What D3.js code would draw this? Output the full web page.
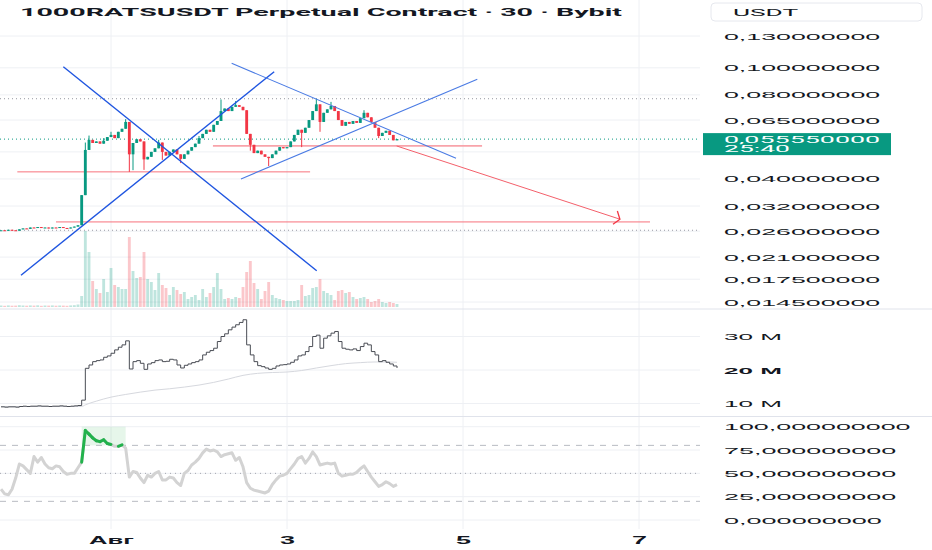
<!DOCTYPE html>
<html>
<head>
<meta charset="utf-8">
<script src="https://cdn.jsdelivr.net/npm/d3@7"></script>
<style>
  html, body { margin: 0; padding: 0; background: #fff; }
  svg { display: block; font-family: Roboto, "Noto Sans", sans-serif; }
</style>
</head>
<body>
<div id="chart"></div>
<script>
// ---- chart data (hourly bars, hour 0 = 1 Aug 00:00) ----
const title = "1000RATSUSDT Perpetual Contract · 30 · Bybit";
const firstHour = -30;

const closes = [
  0.0262,0.0261,0.0263,0.0262,0.0261,0.0264,0.0266,0.0265,0.0268,0.0267,0.0269,
  0.0267,0.0268,0.0266,0.0268,0.0267,0.0269,0.0267,0.0266,0.0268,0.0270,0.0273,
  0.0350,0.0508,0.0552,0.0538,0.0545,0.0535,0.0548,0.0565,
  0.0575,0.0560,0.0590,0.0605,0.0640,0.0490,0.0538,0.0555,0.0545,0.0470,
  0.0480,0.0500,0.0515,0.0540,0.0500,0.0485,0.0500,0.0510,0.0490,0.0472,
  0.0490,0.0505,0.0520,0.0535,0.0560,0.0580,0.0600,0.0590,0.0625,0.0645,
  0.0700,0.0715,0.0700,0.0725,0.0735,0.0725,0.0705,0.0580,0.0530,0.0495,
  0.0505,0.0490,0.0480,0.0475,0.0490,0.0505,0.0520,0.0515,0.0520,0.0545,
  0.0575,0.0600,0.0585,0.0610,0.0650,0.0700,0.0740,0.0640,0.0690,0.0710,
  0.0730,0.0700,0.0650,0.0620,0.0640,0.0630,0.0645,0.0635,0.0660,0.0690,
  0.0665,0.0640,0.0610,0.0570,0.0585,0.0595,0.0575,0.0550,0.05555
];
// notable wicks: [hour, price]
const wickHighs = [[-7,0.0540],[-6,0.0572],[-2,0.0560],[0,0.0590],[4,0.0655],[13,0.0552],
  [24,0.0570],[30,0.0770],[34,0.0760],[56,0.0775],[60,0.0755],[69,0.0705]];
const wickLows = [[5,0.0424],[6,0.0430],[9,0.0431],[14,0.0468],[19,0.0456],[38,0.0505],
  [43,0.0445],[52,0.0520],[57,0.0590],[73,0.0560]];

const volumes = [
  0.15,0.12,0.16,0.13,0.14,0.18,0.15,0.13,0.16,0.14,0.17,
  0.12,0.15,0.14,0.16,0.13,0.15,0.14,0.12,0.16,0.18,0.25,
  1.1,7.6,5.5,2.6,1.8,1.4,2.8,1.5,
  3.9,2.2,2.0,1.8,1.8,7.0,3.6,2.9,3.0,5.5,
  2.8,2.5,1.7,3.4,2.2,1.9,1.2,2.0,1.7,1.3,
  1.5,0.8,1.0,1.2,0.7,1.8,1.0,1.4,2.0,3.4,
  1.8,0.8,0.9,0.8,1.0,0.9,2.0,3.5,4.6,2.4,
  1.8,0.8,1.6,2.5,1.2,0.9,0.8,0.7,0.6,0.6,
  0.6,0.7,2.2,1.1,1.2,1.9,2.0,2.8,1.6,1.4,
  1.2,0.7,1.6,1.7,1.4,1.5,1.0,0.8,0.9,1.0,
  0.8,0.5,0.6,0.8,0.5,0.4,0.5,0.4,0.3
];

const obv = [
  9.0,8.9,9.0,9.0,8.9,9.1,9.2,9.1,9.2,9.2,9.3,
  9.2,9.2,9.1,9.2,9.2,9.3,9.2,9.1,9.2,9.3,9.4,
  11.0,20.5,21.5,22.5,22.8,23.0,23.8,24.2,
  25.0,26.0,26.8,27.5,28.7,20.3,22.5,22.8,22.0,20.2,
  21.8,22.2,22.8,23.0,22.5,22.6,23.2,23.0,21.5,20.6,
  21.4,21.8,22.2,22.5,23.0,24.5,25.3,25.8,26.5,28.5,
  30.0,30.8,32.0,32.8,33.5,34.2,35.0,27.5,24.5,22.5,
  21.3,21.0,20.6,20.2,20.5,21.2,21.5,21.6,21.8,22.3,
  23.0,24.2,24.5,25.5,27.0,30.0,30.4,26.5,29.5,30.2,
  31.0,31.5,28.5,26.5,26.2,26.0,26.3,25.8,27.0,28.0,
  27.5,25.5,24.5,22.5,22.8,22.3,21.8,21.2,20.6
];
const obvMaHours = [-30,-8,-7,-4,0,4,8,12,16,20,24,28,32,36,40,44,48,52,56,60,64,68,72,76,78];
const obvMaValues = [9.1,9.1,9.6,10.7,11.9,12.7,13.4,14.0,14.4,14.9,15.5,16.3,17.3,18.4,
  19.0,19.25,19.4,19.85,20.6,21.3,21.9,22.2,22.4,22.4,22.3];

const rsi = [
  33,28,27,33,45,60,58,54,50,68,62,
  67,60,56,55,58,57,52,49,50,50,56,
  62,96,92,88,85,84,86,82,
  81,79,79,80.5,77,46,52,51,45,40,
  48,46,50,52,43,43,46,45,40,37,
  50,53,59,62,66,72,76,74,75,73,
  68,70,71,72,64,67,57,40,34,32,
  31,30,29,31,38,43,47,48,50,55,
  60,66,68,61,66,73,68,59,60,61,
  60,61,50,47,48,49,49,51,55,58,
  52,46,41,36,38,41,39,36,38
];

// axis ticks
const priceTicks = [0.13, 0.10, 0.08, 0.065, 0.05, 0.04, 0.032, 0.026, 0.021, 0.0175, 0.0145];
const obvTicks = [30, 20, 10];
const rsiTicks = [100, 75, 50, 25, 0];
const rsiBands = [80, 20];
const dayTicks = [1, 3, 5, 7];
const monthName = "Авг";
const countdown = "25:40";
const highLowLines = [0.0775, 0.0262];

// drawings in data units
const trendLines = [ // [hour1, price1, hour2, price2]
  [-13.0, 0.1009, 56.1, 0.01877],
  [-24.55, 0.01808, 44.5, 0.0968],
  [32.9, 0.1038, 94.1, 0.04745],
  [35.45, 0.0400, 99.9, 0.0910]
];
const levelLines = [[-25.55, 54.3, 0.0424], [-15.0, 147.0, 0.02806]]; // [hour1, hour2, price]
const zoneLine = [27.8, 101.2, 0.0525];
const targetArrow = [77.9, 0.0525, 138.8, 0.0287];

// ---- setup ----
const W = 932, H = 550, plotRight = 700, axisX = 724;
const GREEN = "#089981", RED = "#f23645", GRID = "#eef0f4", TEXT = "#131722";

const svg = d3.select("#chart").append("svg").attr("width", W).attr("height", H);

const t0 = Date.UTC(2024, 7, 1);
const timeOf = h => new Date(t0 + h * 3600e3);
const bars = closes.map((c, i) => {
  const h = firstHour + i;
  const open = i === 0 ? c : closes[i - 1];
  const wh = wickHighs.find(w => w[0] === h);
  const wl = wickLows.find(w => w[0] === h);
  return {
    h, t: timeOf(h), open, close: c,
    high: wh ? wh[1] : Math.max(open, c),
    low: wl ? wl[1] : Math.min(open, c),
    vol: volumes[i], obv: obv[i], rsi: rsi[i]
  };
});

const x = d3.scaleTime().domain([timeOf(0), timeOf(48)]).range([111, 287]);
const y = d3.scaleLog().domain([0.0145, 0.13]).range([302, 36]);
const yVol = d3.scaleLinear().domain([0, 7.6]).range([307, 231]);
const yObv = d3.scaleLinear().domain([10, 30]).range([403.5, 336.5]);
const yRsi = d3.scaleLinear().domain([0, 100]).range([520, 426.7]);
const barW = (x(timeOf(1)) - x(timeOf(0))) * 0.78;

const fmtNum = d3.format(".9f");
const comma = v => fmtNum(v).replace(".", ",");
function stretch(sel, perChar) {
  sel.attr("textLength", function() { return this.textContent.length * perChar; })
     .attr("lengthAdjust", "spacingAndGlyphs");
}

// clip paths
const defs = svg.append("defs");
[["clipPrice", 0, 308], ["clipObv", 311, 416], ["clipRsi", 418, 530]].forEach(([id, y0, y1]) => {
  defs.append("clipPath").attr("id", id).append("rect")
    .attr("x", 0).attr("y", y0).attr("width", plotRight).attr("height", y1 - y0);
});
defs.append("marker").attr("id", "arrow").attr("markerUnits", "userSpaceOnUse")
  .attr("viewBox", "-8 -8 10 16").attr("refX", 0).attr("refY", 0)
  .attr("markerWidth", 10).attr("markerHeight", 16).attr("orient", "auto")
  .append("path").attr("d", "M-5,-7L0,0L-5,7").attr("fill", "none")
  .attr("stroke", RED).attr("stroke-width", 1.3);

// ---- grid ----
const grid = svg.append("g").attr("stroke", GRID).attr("stroke-width", 1);
grid.selectAll(".v").data(dayTicks).enter().append("line")
  .attr("x1", d => x(new Date(Date.UTC(2024, 7, d)))).attr("x2", d => x(new Date(Date.UTC(2024, 7, d))))
  .attr("y1", 0).attr("y2", 529);
grid.selectAll(".hp").data(priceTicks).enter().append("line")
  .attr("x1", 0).attr("x2", plotRight).attr("y1", d => y(d)).attr("y2", d => y(d));
grid.selectAll(".ho").data(obvTicks).enter().append("line")
  .attr("x1", 0).attr("x2", plotRight).attr("y1", d => yObv(d)).attr("y2", d => yObv(d));
grid.selectAll(".hr").data(rsiTicks).enter().append("line")
  .attr("x1", 0).attr("x2", plotRight).attr("y1", d => yRsi(d)).attr("y2", d => yRsi(d));

// pane separators
svg.append("g").attr("stroke", "#e0e3eb").selectAll("line").data([309, 416.5]).enter()
  .append("line").attr("x1", 0).attr("x2", W).attr("y1", d => d).attr("y2", d => d);

// ---- price pane ----
const price = svg.append("g").attr("clip-path", "url(#clipPrice)");

// volume
price.selectAll(".vol").data(bars).enter().append("rect")
  .attr("x", d => x(d.t) - barW / 2).attr("width", barW)
  .attr("y", d => yVol(d.vol)).attr("height", d => yVol(0) - yVol(d.vol))
  .attr("fill", d => d.close >= d.open ? "rgba(8,153,129,0.26)" : "rgba(242,54,69,0.28)");

// high / low dotted lines
price.selectAll(".hl").data(highLowLines).enter().append("line")
  .attr("x1", 0).attr("x2", plotRight).attr("y1", d => y(d)).attr("y2", d => y(d))
  .attr("stroke", "#9598a1").attr("stroke-dasharray", "1 3");
const last = bars[bars.length - 1];
price.append("line").attr("x1", 0).attr("x2", plotRight)
  .attr("y1", y(last.close)).attr("y2", y(last.close))
  .attr("stroke", GREEN).attr("stroke-dasharray", "1 3");

// red levels
price.selectAll(".lvl").data(levelLines).enter().append("line")
  .attr("x1", d => x(timeOf(d[0]))).attr("x2", d => x(timeOf(d[1])))
  .attr("y1", d => y(d[2])).attr("y2", d => y(d[2]))
  .attr("stroke", "#f7727c").attr("stroke-width", 1);
price.append("line")
  .attr("x1", x(timeOf(zoneLine[0]))).attr("x2", x(timeOf(zoneLine[1])))
  .attr("y1", y(zoneLine[2])).attr("y2", y(zoneLine[2]))
  .attr("stroke", "#f8a3aa").attr("stroke-width", 1.8);
price.append("line")
  .attr("x1", x(timeOf(targetArrow[0]))).attr("y1", y(targetArrow[1]))
  .attr("x2", x(timeOf(targetArrow[2]))).attr("y2", y(targetArrow[3]))
  .attr("stroke", "#f4606b").attr("stroke-width", 1).attr("marker-end", "url(#arrow)");

// candles
const candle = price.selectAll(".candle").data(bars).enter().append("g")
  .attr("fill", d => d.close >= d.open ? GREEN : RED)
  .attr("stroke", d => d.close >= d.open ? GREEN : RED);
candle.append("line")
  .attr("x1", d => x(d.t)).attr("x2", d => x(d.t))
  .attr("y1", d => y(d.high)).attr("y2", d => y(d.low)).attr("stroke-width", 1);
candle.append("rect")
  .attr("x", d => x(d.t) - barW / 2).attr("width", barW)
  .attr("y", d => y(Math.max(d.open, d.close)))
  .attr("height", d => Math.max(1, Math.abs(y(d.open) - y(d.close))))
  .attr("stroke", "none");

// blue trend lines
price.selectAll(".trend").data(trendLines).enter().append("line")
  .attr("x1", d => x(timeOf(d[0]))).attr("y1", d => y(d[1]))
  .attr("x2", d => x(timeOf(d[2]))).attr("y2", d => y(d[3]))
  .attr("stroke", (d, i) => i < 2 ? "#1f55e0" : "#4a7be4")
  .attr("stroke-width", (d, i) => i < 2 ? 1.4 : 1.1);

// ---- OBV pane ----
const obvG = svg.append("g").attr("clip-path", "url(#clipObv)");
obvG.append("path")
  .datum(obvMaHours.map((h, i) => [timeOf(h), obvMaValues[i]]))
  .attr("fill", "none").attr("stroke", "#d6d8de").attr("stroke-width", 1)
  .attr("d", d3.line().x(d => x(d[0])).y(d => yObv(d[1])).curve(d3.curveMonotoneX));
obvG.append("path").datum(bars)
  .attr("fill", "none").attr("stroke", "#4a4d55").attr("stroke-width", 1)
  .attr("d", d3.line().x(d => x(d.t)).y(d => yObv(d.obv)).curve(d3.curveStepAfter));

// ---- RSI pane ----
const rsiG = svg.append("g").attr("clip-path", "url(#clipRsi)");
const over = bars.filter(d => d.rsi >= 80);
if (over.length) {
  const i0 = bars.indexOf(over[0]), i1 = bars.indexOf(over[over.length - 1]);
  rsiG.append("rect")
    .attr("x", x(bars[i0 - 1].t)).attr("width", x(bars[i1 + 1].t) - x(bars[i0 - 1].t))
    .attr("y", yRsi(100)).attr("height", yRsi(80) - yRsi(100))
    .attr("fill", "rgba(46,180,80,0.12)");
}
rsiG.selectAll(".band").data(rsiBands).enter().append("line")
  .attr("x1", 0).attr("x2", plotRight).attr("y1", d => yRsi(d)).attr("y2", d => yRsi(d))
  .attr("stroke", "#b8bbc2").attr("stroke-dasharray", "6 6");
rsiG.append("line").attr("x1", 0).attr("x2", plotRight)
  .attr("y1", yRsi(50)).attr("y2", yRsi(50))
  .attr("stroke", "#a3a6ae").attr("stroke-dasharray", "1 4");
const rsiLine = d3.line().x(d => x(d.t)).y(d => yRsi(d.rsi));
rsiG.append("path").datum(bars)
  .attr("fill", "none").attr("stroke", "#d3d3d3").attr("stroke-width", 3)
  .attr("stroke-linejoin", "round").attr("d", rsiLine);
const hotSegments = d3.pairs(bars).filter(p => p[1].rsi >= 80);
rsiG.selectAll(".hot").data(hotSegments).enter().append("path")
  .attr("fill", "none").attr("stroke", "#22b24c").attr("stroke-width", 3)
  .attr("stroke-linecap", "round").attr("d", rsiLine);

// ---- right axes ----
const priceAxis = svg.append("g").attr("transform", `translate(${axisX},0)`)
  .call(d3.axisRight(y).tickValues(priceTicks.filter(t => Math.abs(y(t) - (y(last.close) + 5)) > 12))
    .tickFormat(comma).tickSize(0).tickPadding(0))
  .call(g => g.select(".domain").remove());
priceAxis.selectAll("text").attr("fill", TEXT).attr("font-size", 9.5).call(stretch, 14.2);

const obvAxis = svg.append("g").attr("transform", `translate(${axisX},0)`)
  .call(d3.axisRight(yObv).tickValues(obvTicks).tickFormat(d => d + " M").tickSize(0).tickPadding(0))
  .call(g => g.select(".domain").remove());
obvAxis.selectAll("text").attr("fill", TEXT).attr("font-size", 9.5)
  .attr("font-weight", d => d === 20 ? "bold" : "normal").call(stretch, 14.5);

const rsiAxis = svg.append("g").attr("transform", `translate(${axisX},0)`)
  .call(d3.axisRight(yRsi).tickValues(rsiTicks).tickFormat(comma).tickSize(0).tickPadding(0))
  .call(g => g.select(".domain").remove());
rsiAxis.selectAll("text").attr("fill", TEXT).attr("font-size", 9.5).call(stretch, 14.35);

// last price badge
const ly = y(last.close);
svg.append("rect").attr("x", 703).attr("y", ly - 6).attr("width", 188).attr("height", 22)
  .attr("fill", GREEN);
svg.append("text").attr("x", axisX).attr("y", ly + 3.5).attr("fill", "#fff").attr("font-size", 9.5)
  .text(comma(last.close)).call(stretch, 14.2);
svg.append("text").attr("x", axisX).attr("y", ly + 13).attr("fill", "#fff").attr("font-size", 9.5)
  .text(countdown).call(stretch, 13.2);

// currency box
svg.append("rect").attr("x", 711).attr("y", 3).attr("width", 211).attr("height", 18).attr("rx", 4)
  .attr("fill", "#fff").attr("stroke", "#e6e8ee");
svg.append("text").attr("x", 733).attr("y", 15.5).attr("fill", TEXT).attr("font-size", 9.5)
  .text("USDT").call(stretch, 16.3);

// ---- time axis ----
const timeAxis = svg.append("g").attr("transform", "translate(0,536.5)")
  .call(d3.axisBottom(x).tickValues(dayTicks.map(d => new Date(Date.UTC(2024, 7, d))))
    .tickFormat(d => d.getUTCDate() === 1 ? monthName : String(d.getUTCDate()))
    .tickSize(0).tickPadding(0))
  .call(g => g.select(".domain").remove());
timeAxis.selectAll("text").attr("fill", TEXT).attr("font-size", 10).attr("font-weight", "bold")
  .call(stretch, 15);

// ---- title ----
svg.append("text").attr("x", 20).attr("y", 15.5).attr("fill", TEXT)
  .attr("font-size", 11.5).attr("font-weight", "bold")
  .attr("textLength", 602).attr("lengthAdjust", "spacingAndGlyphs")
  .text(title);
</script>
</body>
</html>
